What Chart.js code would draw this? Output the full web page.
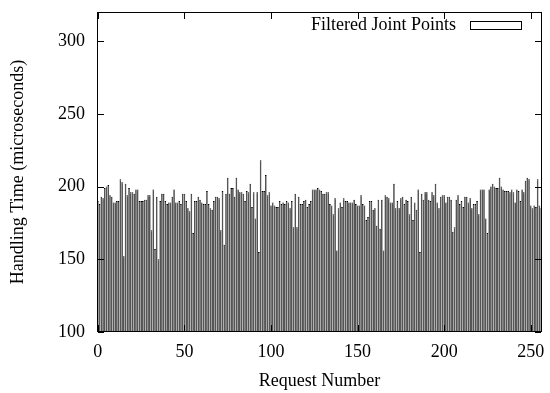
<!DOCTYPE html>
<html>
<head>
<meta charset="utf-8">
<script src="https://cdn.jsdelivr.net/npm/chart.js@4.4.1/dist/chart.umd.min.js"></script>
<style>
  html, body { margin: 0; padding: 0; background: #fff; }
</style>
</head>
<body>
<canvas id="handlingChart" width="550" height="393"></canvas>
<script>
/* handling time per request (microseconds) */
const handlingTimes = [
  190, 188, 193, 192, 199, 200, 201, 194, 193, 189,
  189, 190, 190, 205, 203, 152, 202, 194, 199, 196,
  196, 195, 198, 198, 190, 190, 190, 191, 191, 194,
  194, 170, 198, 157, 193, 150, 190, 195, 195, 190,
  188, 189, 189, 193, 198, 189, 189, 190, 188, 195,
  195, 190, 185, 183, 195, 168, 190, 190, 193, 191,
  189, 188, 188, 197, 188, 185, 184, 190, 193, 193,
  192, 170, 197, 160, 195, 206, 195, 199, 199, 193,
  206, 198, 196, 196, 195, 190, 197, 196, 202, 186,
  196, 178, 196, 155, 218, 197, 197, 208, 194, 196,
  187, 189, 187, 186, 186, 190, 188, 189, 188, 190,
  189, 185, 190, 172, 195, 172, 193, 188, 188, 190,
  191, 186, 188, 190, 198, 198, 198, 199, 198, 197,
  195, 195, 196, 196, 188, 187, 181, 192, 156, 185,
  189, 186, 192, 190, 190, 189, 189, 189, 191, 188,
  187, 187, 194, 188, 187, 177, 179, 190, 190, 184,
  185, 173, 191, 171, 191, 156, 194, 193, 192, 189,
  189, 202, 185, 190, 185, 192, 193, 188, 191, 190,
  181, 193, 177, 189, 184, 198, 155, 195, 191, 196,
  196, 191, 190, 196, 194, 202, 189, 185, 193, 194,
  194, 189, 193, 193, 191, 169, 172, 191, 194, 188,
  190, 186, 193, 193, 189, 192, 185, 188, 188, 190,
  181, 198, 198, 198, 178, 168, 198, 200, 202, 200,
  199, 199, 206, 200, 198, 197, 197, 197, 196, 198,
  196, 189, 198, 197, 190, 198, 196, 204, 206, 205,
  187, 185, 187, 186, 205, 187, 185
];
const requestTicks = [0, 50, 100, 150, 200, 250];
const timeTicks    = [100, 150, 200, 250, 300];
const seriesLabel  = 'Filtered Joint Points';

const FONT = { family: '"Liberation Serif", "DejaVu Serif", serif', size: 18 };
// invisible outer tick marks, only used to push the labels away from the frame
const hiddenTicks = len => ({ display: true, drawOnChartArea: false, drawTicks: true, tickLength: len, color: 'rgba(0,0,0,0)' });

/* gnuplot-like frame: box border, inward ticks on all four sides, legend at top right */
const framePlugin = {
  id: 'frame',
  afterDatasetsDraw(chart) {
    const { ctx, chartArea: a, scales: { x, y } } = chart;
    const L = Math.round(a.left), R = Math.round(a.right) - 1;
    const T = Math.round(a.top), B = Math.round(a.bottom) - 1;
    const tick = 6;
    ctx.save();
    ctx.fillStyle = '#000';
    ctx.fillRect(L, T, R - L + 1, 1);
    ctx.fillRect(L, B, R - L + 1, 1);
    ctx.fillRect(L, T, 1, B - T + 1);
    ctx.fillRect(R, T, 1, B - T + 1);
    requestTicks.forEach(v => {
      const px = Math.round(x.getPixelForValue(v));
      ctx.fillRect(px, B - tick, 1, tick);
      ctx.fillRect(px, T + 1, 1, tick);
    });
    timeTicks.forEach(v => {
      const py = Math.round(y.getPixelForValue(v));
      ctx.fillRect(L + 1, py, tick, 1);
      ctx.fillRect(R - tick, py, tick, 1);
    });

    // legend
    ctx.font = FONT.size + 'px ' + FONT.family;
    ctx.textAlign = 'right';
    ctx.textBaseline = 'middle';
    ctx.fillText(seriesLabel, 456, 25);
    ctx.strokeStyle = '#000';
    ctx.lineWidth = 1;
    ctx.fillStyle = '#fff';
    ctx.fillRect(470.5, 21.5, 51, 8);
    ctx.strokeRect(470.5, 21.5, 51, 8);
    ctx.restore();
  }
};

const ctx = document.getElementById('handlingChart');
new Chart(ctx, {
  type: 'bar',
  data: {
    datasets: [{
      label: seriesLabel,
      data: handlingTimes.map((v, i) => ({ x: i, y: v })),
      backgroundColor: '#555555',
      borderColor: '#000000',
      borderWidth: { top: 1, left: 0, right: 0, bottom: 0 },
      borderSkipped: false,
      inflateAmount: 0,
      barPercentage: 1,
      categoryPercentage: 1
    }]
  },
  options: {
    responsive: false,
    animation: false,
    devicePixelRatio: 1,
    layout: { padding: { top: 12, right: 8, left: 0, bottom: 0 } },
    plugins: { legend: { display: false }, tooltip: { enabled: false } },
    scales: {
      x: {
        type: 'linear', min: -0.5, max: 256.5, offset: false,
        grid: hiddenTicks(9),
        border: { display: false },
        afterBuildTicks: s => { s.ticks = requestTicks.map(v => ({ value: v })); },
        afterFit: s => { s.height = 61; },
        ticks: { color: '#000', font: FONT, padding: 0, maxRotation: 0, autoSkip: false },
        title: { display: true, text: 'Request Number', color: '#000', font: FONT, padding: { top: 0, bottom: 1 } }
      },
      y: {
        min: 100, max: 320,
        grid: hiddenTicks(12),
        border: { display: false },
        afterBuildTicks: s => { s.ticks = timeTicks.map(v => ({ value: v })); },
        afterFit: s => { s.width = 97; },
        ticks: { color: '#000', font: FONT, padding: 0 },
        title: { display: true, text: 'Handling Time (microseconds)', color: '#000', font: FONT, padding: { top: 7, bottom: 0 } }
      }
    }
  },
  plugins: [framePlugin]
});
</script>
</body>
</html>
